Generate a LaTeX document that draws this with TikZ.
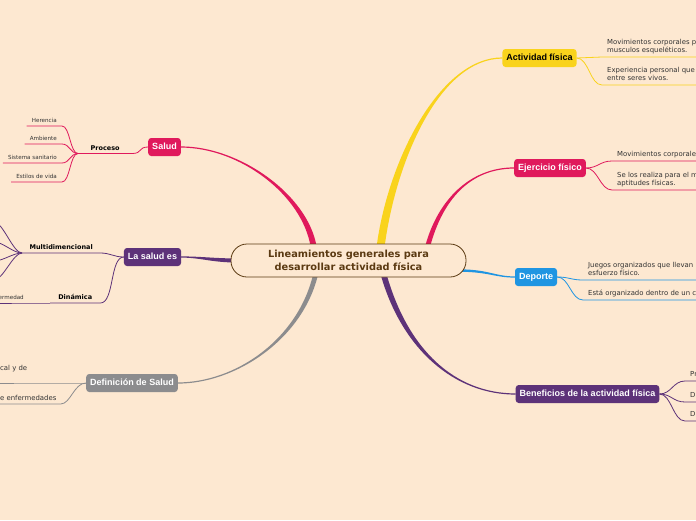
\documentclass[tikz,border=0pt]{standalone}
\usepackage{fontspec}
\setmainfont{DejaVu Sans}
\newfontfamily\arialfont{Liberation Sans}
\usepackage{tikz}
\usetikzlibrary{calc}
\usetikzlibrary{backgrounds}
\definecolor{mmbg}{HTML}{FDE8D1}
\definecolor{mmbrown}{HTML}{5B3A12}
\definecolor{mmred}{HTML}{E0195C}
\definecolor{mmpurple}{HTML}{5D3279}
\definecolor{mmgray}{HTML}{8C8C8E}
\definecolor{mmyellow}{HTML}{F9D31C}
\definecolor{mmblue}{HTML}{1F95E2}
\definecolor{mmtext}{HTML}{333333}
\newcommand\rootfont{\fontsize{9.8}{13}\selectfont\bfseries}
\newcommand\topicfont{\arialfont\fontsize{9}{11}\selectfont\bfseries}
\newcommand\subtopicfont{\fontsize{6.5}{8}\selectfont\bfseries}
\newcommand\leaffont{\fontsize{5.6}{7}\selectfont}
\newcommand\rleaffont{\fontsize{6.9}{8.2}\selectfont}
% tapered branch: colour, start, control 1, control 2, end, start half width, end half width
\newcommand\taper[7]{%
  \fill[#1] ($(#2)-(#6)$) .. controls ($(#3)-(#6)$) and ($(#4)-(#7)$) .. ($(#5)-(#7)$)
    -- ($(#5)+(#7)$) .. controls ($(#4)+(#7)$) and ($(#3)+(#6)$) .. ($(#2)+(#6)$) -- cycle;}
\tikzstyle{root}=[draw=mmbrown,line width=.8pt,fill=mmbg,rounded corners=16pt,minimum width=235pt,minimum height=33pt,align=center,text=mmbrown,font=\rootfont]
\tikzstyle{topic}=[rounded corners=3pt,text=white,font=\topicfont,minimum height=18pt,inner xsep=4pt,text height=6.5pt,text depth=1.8pt]
\tikzstyle{subtopic}=[font=\subtopicfont,inner xsep=4pt,inner ysep=1.5pt,text depth=1.5pt]
\tikzstyle{leaf}=[font=\leaffont,text=mmtext,inner xsep=5pt,inner ysep=1.5pt,text depth=2pt]
\tikzstyle{mleaf}=[font=\rleaffont,text=mmtext,inner xsep=4pt,inner ysep=1.5pt,text depth=2pt]
\tikzstyle{rleaf}=[font=\rleaffont,text=mmtext,inner xsep=5pt,inner ysep=2.5pt,text depth=2pt,align=left]
\tikzstyle{link}=[line width=.8pt]
\begin{document}
\begin{tikzpicture}[x=1pt,y=-1pt]
	\useasboundingbox (0,0) rectangle (696,520);
	\clip (0,0) rectangle (696,520);
	\node[root] (root) at (348.5,260.5) {Lineamientos generales para\\desarrollar actividad física};
	%
	\node[topic,fill=mmred] (salud) at (164.5,147) {Salud};
	\node[topic,fill=mmpurple] (saludes) at (152.5,257) {La salud es};
	\node[topic,fill=mmgray] (definicion) at (132,383) {Definición de Salud};
	\node[topic,fill=mmyellow,text=black] (actividad) at (539.5,58) {Actividad física};
	\node[topic,fill=mmred] (ejercicio) at (550,168) {Ejercicio físico};
	\node[topic,fill=mmblue] (deporte) at (536,277) {Deporte};
	\node[topic,fill=mmpurple] (beneficios) at (587.5,394) {Beneficios de la actividad física};
	%
	\node[subtopic,anchor=south west,minimum width=54pt] (proceso) at (78,153.5) {Proceso};
	\node[leaf,anchor=south east] (herencia) at (62,126) {Herencia};
	\node[leaf,anchor=south east] (ambiente) at (62,144) {Ambiente};
	\node[leaf,anchor=south east] (sistema) at (62,163) {Sistema sanitario};
	\node[leaf,anchor=south east] (estilos) at (62,182) {Estilos de vida};
	\draw[link,mmred] (salud.west) .. controls +(-10,0) and +(10,0) .. (proceso.south east) -- (proceso.south west);
	\foreach \n in {herencia,ambiente,sistema,estilos}
		\draw[link,mmred] (proceso.south west) .. controls +(-8,0) and +(8,0) .. (\n.south east) -- (\n.south west);
	%
	\node[subtopic,anchor=south west,minimum width=78pt] (multi) at (22,253) {Multidimencional};
	\node[subtopic,anchor=south west,minimum width=50pt] (dinamica) at (50,303) {Dinámica};
	\node[leaf,anchor=south east] (enfermedad) at (29,303) {ermedad};
	\coordinate (md1) at (-6,222);
	\coordinate (md2) at (-6,242);
	\coordinate (md3) at (-6,261);
	\coordinate (md4) at (-6,280);
	\draw[link,mmpurple] (saludes.west) .. controls +(-10,0) and +(10,0) .. (multi.south east) -- (multi.south west);
	\draw[link,mmpurple] (saludes.west) .. controls +(-14,0) and +(14,0) .. (dinamica.south east) -- (dinamica.south west);
	\foreach \n in {md1,md2,md3,md4}
		\draw[link,mmpurple] (multi.south west) .. controls +(-9,0) and +(9,0) .. (\n);
	\draw[link,mmpurple] (dinamica.south west) -- (enfermedad.south east) -- (enfermedad.south west);
	%
	\node[mleaf,anchor=south west,text depth=10.5pt] (fisico) at (-4,383) {cal y de};
	\node[mleaf,anchor=south west] (enfermedades) at (-4,404) {e enfermedades};
	\draw[link,mmgray] (definicion.west) -- (fisico.south east) -- (fisico.south west);
	\draw[link,mmgray] (definicion.west) .. controls +(-12,0) and +(10,0) .. (enfermedades.south east) -- (enfermedades.south west);
	%
	\node[rleaf,anchor=south west] (movimientos) at (602,57) {Movimientos corporales p\\musculos esqueléticos.};
	\node[rleaf,anchor=south west] (experiencia) at (602,85) {Experiencia personal que\\entre seres vivos.};
	\node[rleaf,anchor=south west] (corporales) at (612,161) {Movimientos corporale};
	\node[rleaf,anchor=south west] (aptitudes) at (612,190) {Se los realiza para el m\\aptitudes físicas.};
	\node[rleaf,anchor=south west] (juegos) at (583,280) {Juegos organizados que llevan\\esfuerzo físico.};
	\node[rleaf,anchor=south west] (organizado) at (583,300) {Está organizado dentro de un c};
	\node[rleaf,anchor=south west] (benef1) at (685,381) {Pr};
	\node[rleaf,anchor=south west] (benef2) at (685,402) {Di};
	\node[rleaf,anchor=south west] (benef3) at (685,421) {Di};
	\foreach \n in {movimientos,experiencia}
		\draw[link,mmyellow] (actividad.east) .. controls +(12,0) and +(-12,0) .. (\n.south west) -- +(130,0);
	\foreach \n in {corporales,aptitudes}
		\draw[link,mmred] (ejercicio.east) .. controls +(12,0) and +(-12,0) .. (\n.south west) -- +(130,0);
	\foreach \n in {juegos,organizado}
		\draw[link,mmblue] (deporte.east) .. controls +(12,0) and +(-12,0) .. (\n.south west) -- +(130,0);
	\foreach \n in {benef1,benef2,benef3}
		\draw[link,mmpurple] (beneficios.east) .. controls +(12,0) and +(-12,0) .. (\n.south west) -- +(130,0);
	%
	\begin{scope}[on background layer]
		\fill[mmbg] (0,0) rectangle (696,520);
		\coordinate (bsalud) at ($(root.north west)+(83,3)$);
		\coordinate (bactividad) at ($(root.north west)+(150,3)$);
		\coordinate (bejercicio) at ($(root.north west)+(197,3)$);
		\coordinate (bbeneficios) at ($(root.south west)+(153,-3)$);
		\coordinate (bdefinicion) at ($(root.south west)+(85,-3)$);
		\coordinate (bsaludes) at ($(root.west)+(3,0)$);
		\coordinate (bdeporte) at ($(root.east)+(-6,10)$);
		\taper{mmred}{bsalud}{305,195}{240,147}{salud.east}{3,0}{0,-.6}
		\taper{mmyellow}{bactividad}{392,160}{440,58}{actividad.west}{4,0}{0,.6}
		\taper{mmred}{bejercicio}{440,200}{470,168}{ejercicio.west}{2.5,0}{0,.6}
		\taper{mmpurple}{bbeneficios}{405,350}{455,394}{beneficios.west}{3,0}{0,-.6}
		\taper{mmgray}{bdefinicion}{300,340}{235,383}{definicion.east}{2.5,0}{0,.6}
		\taper{mmpurple}{bsaludes}{210,260}{200,257}{saludes.east}{0,2}{0,.6}
		\taper{mmblue}{bdeporte}{490,271}{495,277}{deporte.west}{0,1.2}{0,.6}
	\end{scope}
\end{tikzpicture}
\end{document}
